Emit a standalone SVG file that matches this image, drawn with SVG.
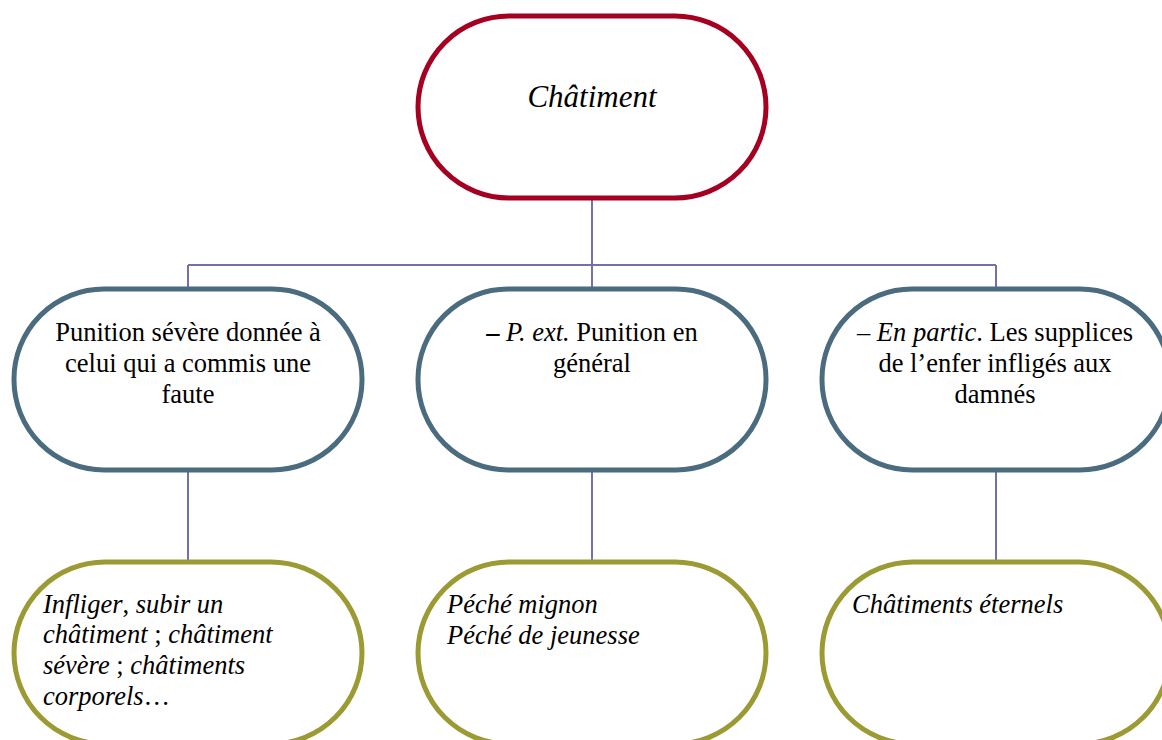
<svg xmlns="http://www.w3.org/2000/svg" width="1162" height="740" viewBox="0 0 1162 740">
<style>
.n{fill:#fff;stroke-width:5}
.top{stroke:#A50021}
.mid{stroke:#4B6B7F}
.bot{stroke:#9C9A32}
.c{fill:none;stroke:#7272A6;stroke-width:2}
text{font-family:"Liberation Serif","Times New Roman",serif;font-size:26.5px;fill:#000}
.i{font-style:italic}
.m{text-anchor:middle}
</style>
<rect width="1162" height="740" fill="#fff"/>
<g id="connectors">
<path class="c" d="M592,198V265M188,265H996M188,265V289M592,265V289M996,265V289"/>
<path class="c" d="M188,470V562M592,470V562M996,470V562"/>
</g>
<g id="n-chatiment">
<rect class="n top" x="418" y="16" width="348" height="182" rx="91"/>
<text class="m i" x="592" y="107" style="font-size:31px">Châtiment</text>
</g>
<g id="n-punition">
<rect class="n mid" x="14" y="289" width="348" height="181" rx="90"/>
<text class="m" x="188" y="341">Punition sévère donnée à</text>
<text class="m" x="188" y="372">celui qui a commis une</text>
<text class="m" x="188" y="403">faute</text>
</g>
<g id="n-pext">
<rect class="n mid" x="418" y="289" width="348" height="181" rx="90"/>
<text class="m" x="592" y="341"><tspan font-weight="bold">–</tspan> <tspan class="i">P. ext.</tspan> Punition en</text>
<text class="m" x="592" y="372">général</text>
</g>
<g id="n-partic">
<rect class="n mid" x="822" y="289" width="348" height="181" rx="90"/>
<text class="m" x="995" y="341">– <tspan class="i">En partic</tspan>. Les supplices</text>
<text class="m" x="995" y="372">de l’enfer infligés aux</text>
<text class="m" x="995" y="403">damnés</text>
</g>
<g id="n-ex1">
<rect class="n bot" x="14" y="562" width="348" height="182" rx="91"/>
<text x="43" y="613"><tspan class="i">Infliger</tspan>, <tspan class="i">subir un</tspan></text>
<text x="43" y="643"><tspan class="i">châtiment</tspan> ; <tspan class="i">châtiment</tspan></text>
<text x="43" y="674"><tspan class="i">sévère</tspan> ; <tspan class="i">châtiments</tspan></text>
<text x="43" y="705"><tspan class="i">corporels</tspan>…</text>
</g>
<g id="n-ex2">
<rect class="n bot" x="418" y="562" width="348" height="182" rx="91"/>
<text class="i" x="447" y="613">Péché mignon</text>
<text class="i" x="447" y="644">Péché de jeunesse</text>
</g>
<g id="n-ex3">
<rect class="n bot" x="822" y="562" width="348" height="182" rx="91"/>
<text class="i" x="852" y="613">Châtiments éternels</text>
</g>
</svg>
